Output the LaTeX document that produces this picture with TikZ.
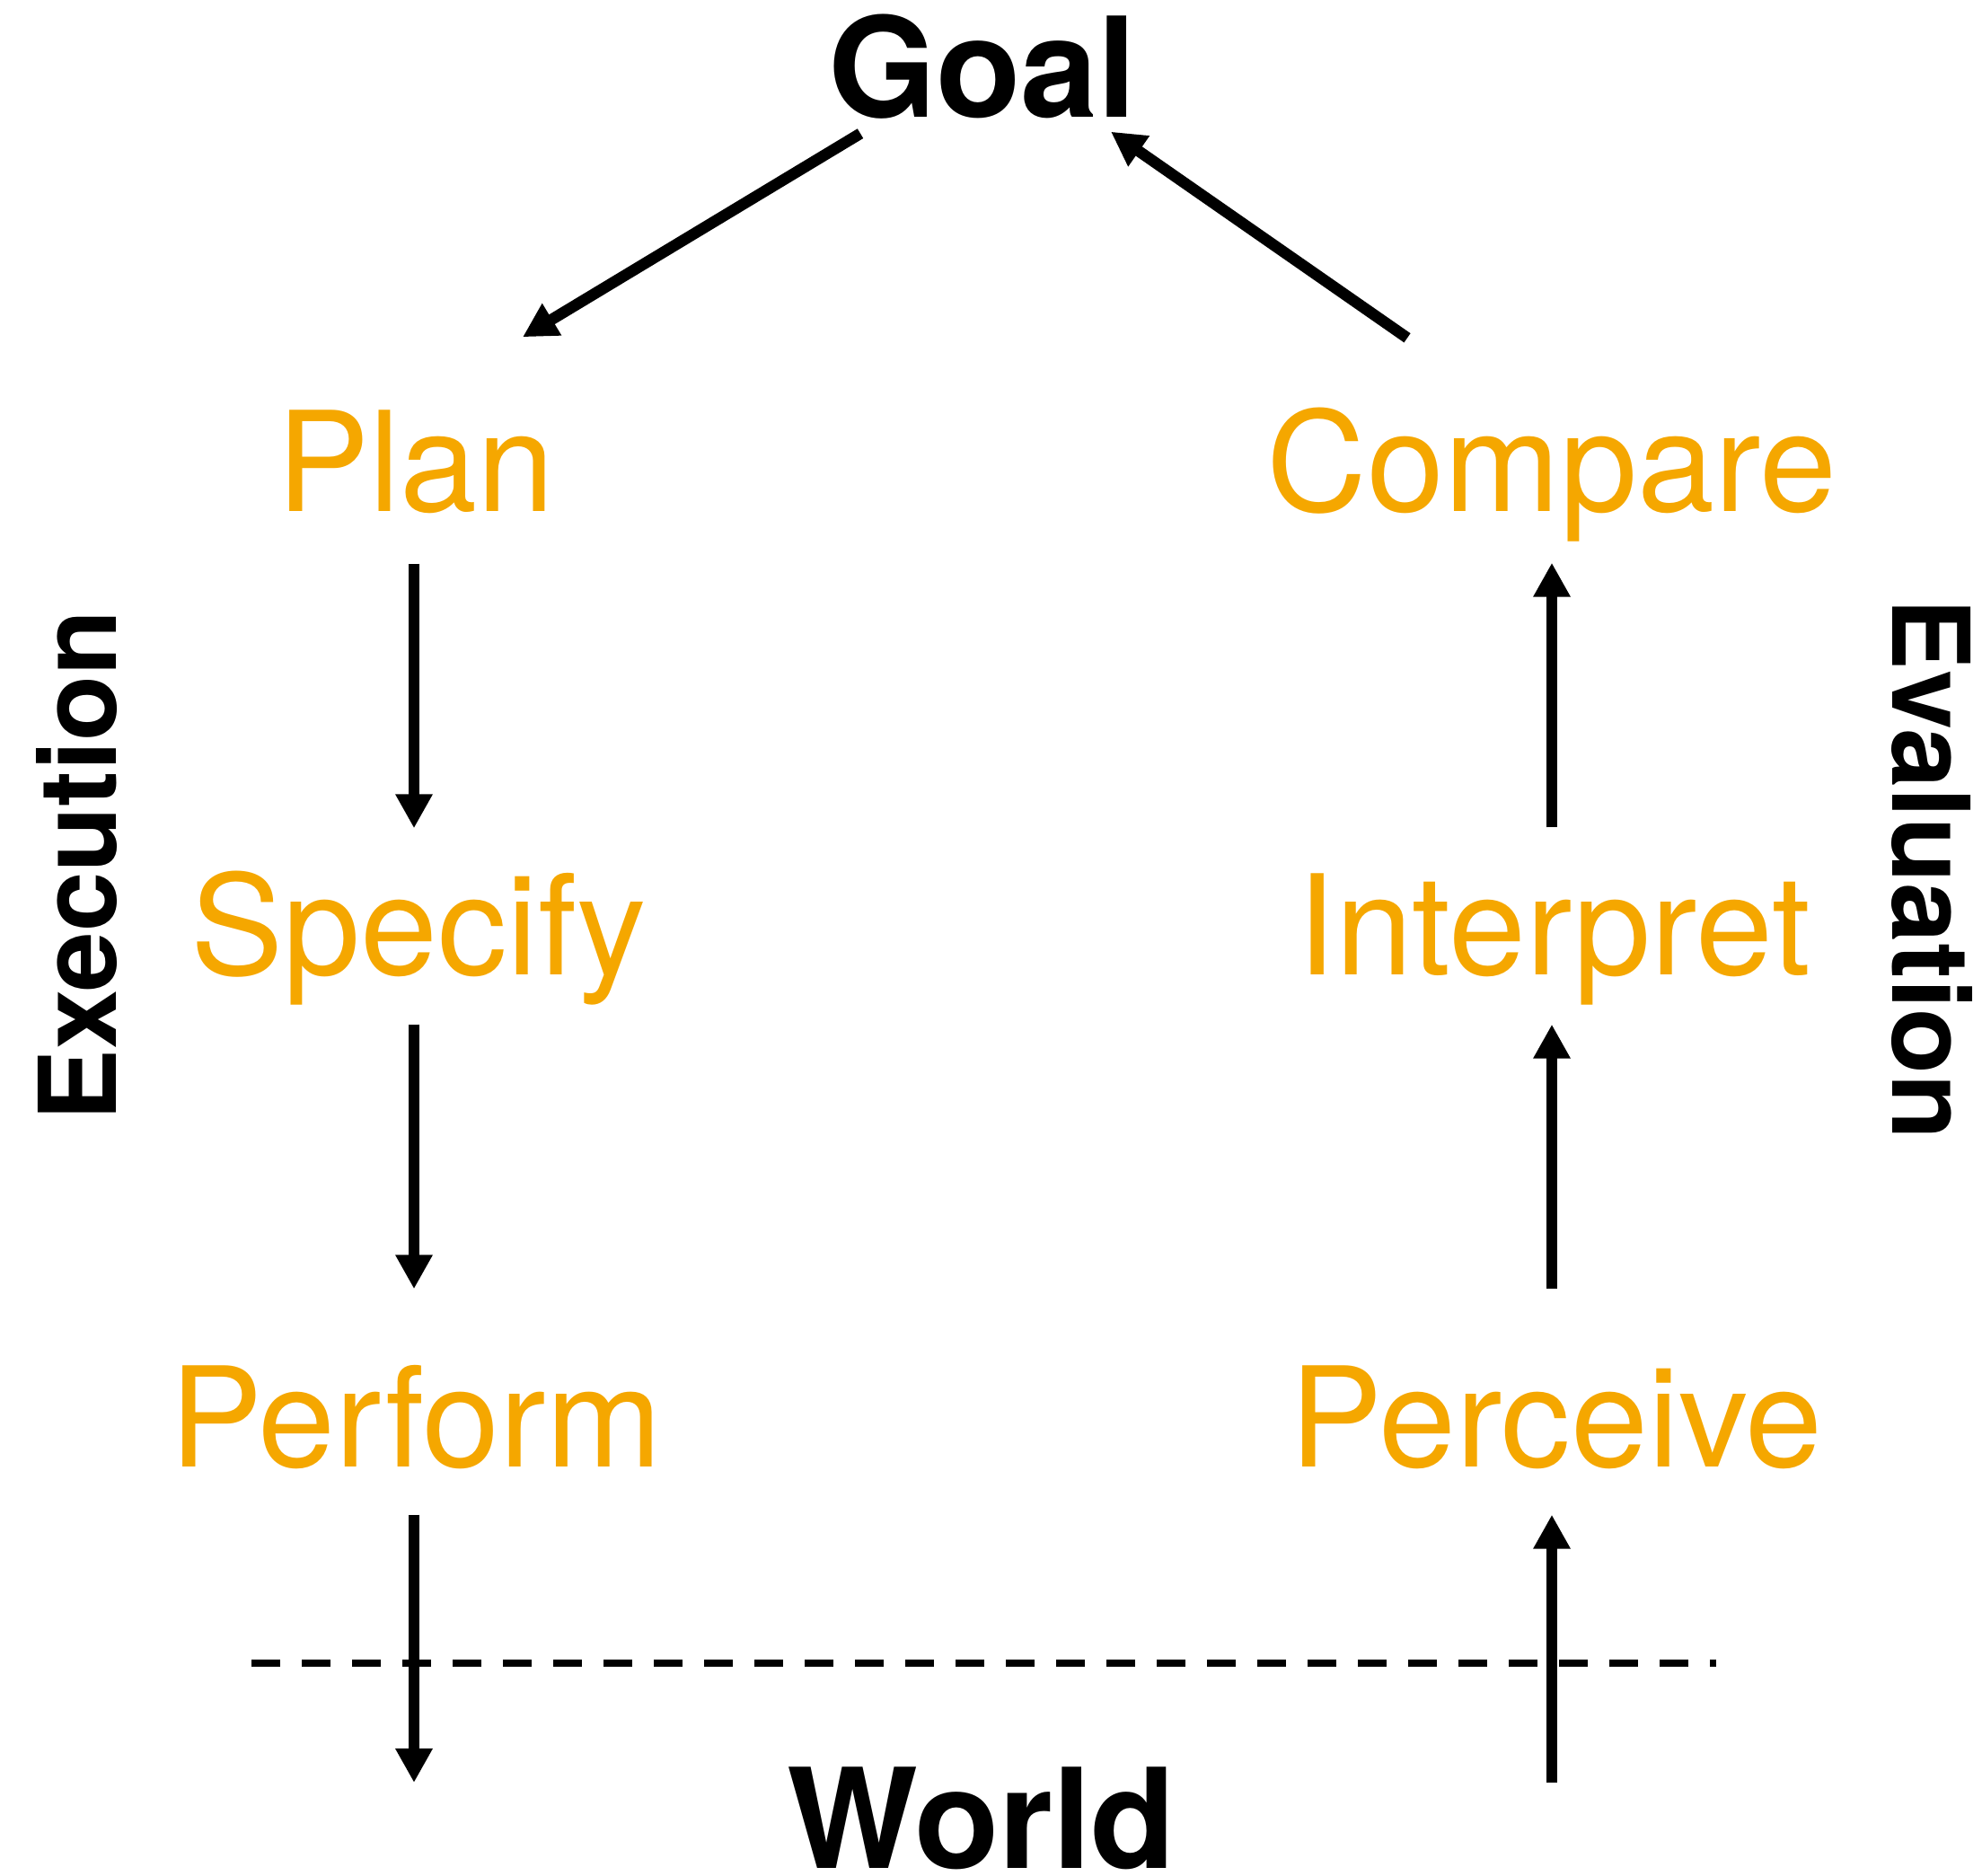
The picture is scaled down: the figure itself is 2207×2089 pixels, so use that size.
\documentclass[tikz,border=0pt]{standalone}
\usepackage{fontspec}
\setmainfont{TeX Gyre Heros}
\usetikzlibrary{arrows.meta}
\definecolor{stageorange}{RGB}{245,167,0}

\begin{document}
\begin{tikzpicture}[x=0.1mm, y=-0.1mm,
    stage/.style={text=stageorange, font=\fontsize{44}{52}\selectfont, inner sep=0pt, text height=11mm, text depth=0pt, anchor=base},
    title/.style={font=\fontsize{44}{52}\selectfont\bfseries, inner sep=0pt, text height=11mm, text depth=0pt, anchor=base},
    side/.style={font=\fontsize{34}{40}\selectfont\bfseries, inner sep=0pt, anchor=base},
    arr/.style={line width=1.25mm, -{Triangle[length=3.8mm,width=3.9mm]}}]
    \useasboundingbox (0,0) rectangle (2207,2089);

    % Goal and world
    \node[title] (goal) at (1094,131) {Goal};
    \node[title] (world) at (1093,2080) {World};

    % Execution side
    \node[stage] (plan) at (463,570) {Plan};
    \node[stage] (specify) at (466,1085) {Specify};
    \node[stage] (perform) at (463,1633) {Perform};

    % Evaluation side
    \node[stage] (compare) at (1728,570) {Compare};
    \node[stage] (interpret) at (1730,1085) {Interpret};
    \node[stage] (perceive) at (1733,1633) {Perceive};

    % Side labels
    \node[side, rotate=90] (execution) at (129,964) {Execution};
    \node[side, rotate=-90] (evaluation) at (2107,968) {Evaluation};

    % Goal to plan, compare to goal
    \draw[arr] ([shift={(-136,17)}]goal.south) -- ([shift={(119,-84)}]plan.north);
    \draw[arr] ([shift={(-161,-83)}]compare.north) -- ([shift={(143,15)}]goal.south);

    % Execution arrows
    \draw[arr] ([shift={(-2,57)}]plan.south) -- ([shift={(-5,-52)}]specify.north);
    \draw[arr] ([shift={(-5,55)}]specify.south) -- ([shift={(-2,-87)}]perform.north);
    \coordinate (act) at (461,1985);
    \draw[arr] ([shift={(-2,53)}]perform.south) -- (act);

    % Evaluation arrows
    \coordinate (sense) at (1728,1985);
    \draw[arr] (sense) -- ([shift={(-5,53)}]perceive.south);
    \draw[arr] ([shift={(-5,-87)}]perceive.north) -- ([shift={(-2,55)}]interpret.south);
    \draw[arr] ([shift={(-2,-53)}]interpret.north) -- ([shift={(0,56)}]compare.south);

    % World boundary
    \draw[line width=0.75mm, dash pattern=on 3.2mm off 2.4mm] (280,1852) -- (1911,1852);
\end{tikzpicture}
\end{document}
